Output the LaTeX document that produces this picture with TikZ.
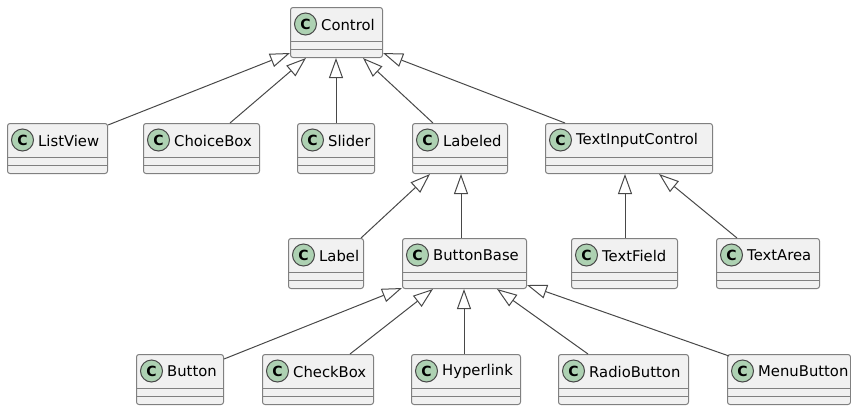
\documentclass[tikz,border=0pt]{standalone}
\usepackage{fontspec}
\setmainfont{DejaVu Sans}
\usetikzlibrary{arrows.meta}
\definecolor{boxfill}{HTML}{F1F1F1}
\definecolor{boxline}{HTML}{808080}
\definecolor{edgeline}{HTML}{484848}
\definecolor{circfill}{HTML}{ADD1B2}
\tikzset{
  clsbox/.style={draw=boxline, fill=boxfill, line width=1pt, rounded corners=2.5pt,
    minimum height=50pt, inner sep=0pt, anchor=north west},
  sepline/.style={draw=boxline, line width=1pt},
  circ/.style={circle, draw=edgeline, fill=circfill, line width=1pt, minimum size=22pt,
    inner sep=0pt, font=\fontsize{14}{14}\selectfont\bfseries},
  clstext/.style={anchor=west, inner sep=0pt, font=\fontsize{14.8}{16}\selectfont},
  inh/.style={draw=edgeline, line width=1pt,
    -{Triangle[length=20pt,width=14pt,fill=white,line join=miter]}},
}
\newcommand{\umlcls}[5]{%
  \node[clsbox, minimum width=#4pt] (#1) at (#2,#3) {};
  \draw[sepline] ([yshift=-34pt]#1.north west) -- ([yshift=-34pt]#1.north east);
  \draw[sepline] ([yshift=-42pt]#1.north west) -- ([yshift=-42pt]#1.north east);
  \node[circ] (#1c) at ([xshift=15.5pt,yshift=-17pt]#1.north west) {C};
  \node[clstext] (#1t) at ([xshift=31pt,yshift=-17.5pt]#1.north west) {#5};
}
\begin{document}
\begin{tikzpicture}[x=1pt,y=-1pt]
\useasboundingbox (0,0) rectangle (851,405);
% classes
\umlcls{control}{290}{7}{92}{Control}
\umlcls{listview}{7}{123}{100}{ListView}
\umlcls{choicebox}{143}{123}{116}{ChoiceBox}
\umlcls{slider}{297}{123}{77}{Slider}
\umlcls{labeled}{412}{123}{95}{Labeled}
\umlcls{tic}{545}{123}{167}{TextInputControl}
\umlcls{label}{288}{238}{75}{Label}
\umlcls{buttonbase}{402}{238}{124}{ButtonBase}
\umlcls{textfield}{571}{238}{106}{TextField}
\umlcls{textarea}{716}{238}{103}{TextArea}
\umlcls{button}{136}{354}{87}{Button}
\umlcls{checkbox}{262}{354}{111}{CheckBox}
\umlcls{hyperlink}{411}{354}{109}{Hyperlink}
\umlcls{radiobutton}{558}{354}{130}{RadioButton}
\umlcls{menubutton}{727}{354}{123}{MenuButton}
% inheritance connectors
\draw[inh] ([yshift=-2pt]listview.north east) -- ([yshift=5pt]control.south west);
\draw[inh] ([xshift=87pt]choicebox.north west) -- ([xshift=16pt]control.south west);
\draw[inh] ([xshift=39pt]slider.north west) -- ([xshift=46pt]control.south west);
\draw[inh] ([xshift=21pt]labeled.north west) -- ([xshift=73pt]control.south west);
\draw[inh] ([xshift=20pt]tic.north west) -- ([yshift=5pt]control.south east);
\draw[inh] ([xshift=-3pt]label.north east) -- ([xshift=18pt]labeled.south west);
\draw[inh] ([xshift=59pt]buttonbase.north west) -- ([xshift=49pt]labeled.south west);
\draw[inh] ([xshift=54pt]textfield.north west) -- ([xshift=80pt]tic.south west);
\draw[inh] ([xshift=21pt]textarea.north west) -- ([xshift=114pt]tic.south west);
\draw[inh] ([yshift=-5pt]button.north east) -- ([yshift=1pt]buttonbase.south west);
\draw[inh] ([xshift=88pt]checkbox.north west) -- ([xshift=31pt]buttonbase.south west);
\draw[inh] ([xshift=53pt]hyperlink.north west) -- ([xshift=62pt]buttonbase.south west);
\draw[inh] ([xshift=30pt]radiobutton.north west) -- ([xshift=95pt]buttonbase.south west);
\draw[inh] ([xshift=2pt,yshift=-2pt]menubutton.north west) -- ([yshift=4pt]buttonbase.south east);
\end{tikzpicture}
\end{document}
